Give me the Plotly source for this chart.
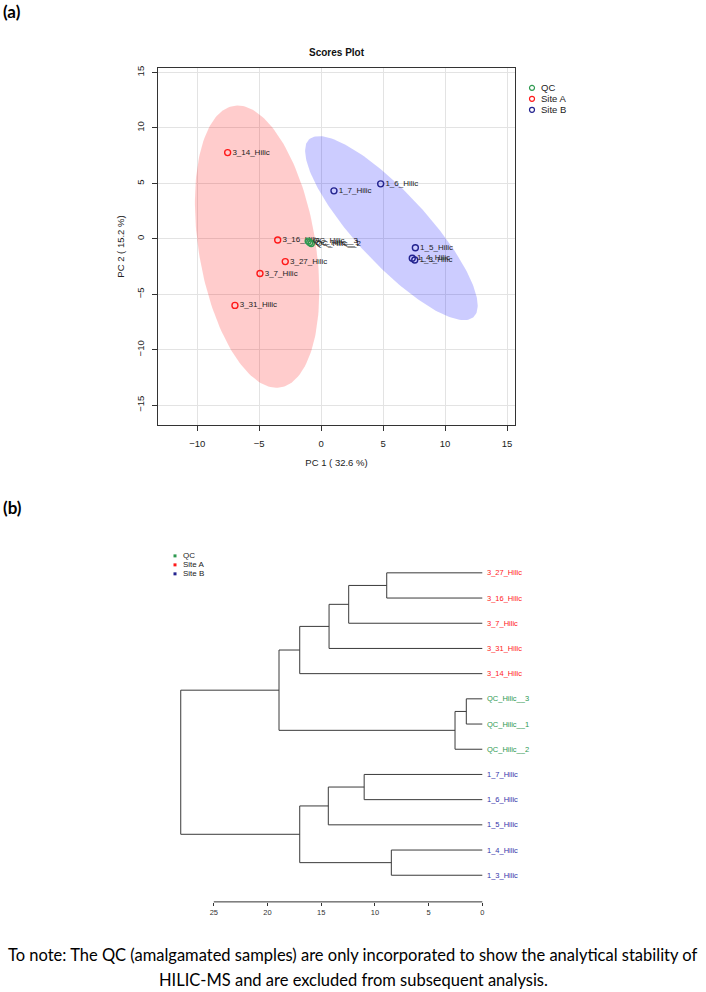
import numpy as np
import plotly.graph_objects as go

# ---------------- data: PCA scores ----------------
site_a_names = ["3_14_Hilic", "3_16_Hilic", "3_27_Hilic", "3_7_Hilic", "3_31_Hilic"]
site_a_pc1 = [-7.55, -3.51, -2.90, -4.94, -6.96]
site_a_pc2 = [7.78, -0.10, -2.05, -3.13, -6.00]

site_b_names = ["1_7_Hilic", "1_6_Hilic", "1_5_Hilic", "1_4_Hilic", "1_3_Hilic"]
site_b_pc1 = [1.03, 4.80, 7.60, 7.35, 7.55]
site_b_pc2 = [4.33, 4.96, -0.80, -1.75, -1.90]

qc_names = ["QC_Hilic__3", "QC_Hilic__1", "QC_Hilic__2"]
qc_pc1 = [-1.05, -0.92, -0.80]
qc_pc2 = [-0.20, -0.33, -0.42]

x_ticks = [-10, -5, 0, 5, 10, 15]
y_ticks = [-15, -10, -5, 0, 5, 10, 15]
legend_groups = ["QC", "Site A", "Site B"]

# ---------------- data: dendrogram ----------------
leaf_order = ["3_27_Hilic", "3_16_Hilic", "3_7_Hilic", "3_31_Hilic", "3_14_Hilic",
              "QC_Hilic__3", "QC_Hilic__1", "QC_Hilic__2",
              "1_7_Hilic", "1_6_Hilic", "1_5_Hilic", "1_4_Hilic", "1_3_Hilic"]
leaf_group = ["Site A"] * 5 + ["QC"] * 3 + ["Site B"] * 5
# merges: (new node, child 1, child 2, height)
merges = [
    ("A1", "3_27_Hilic", "3_16_Hilic", 8.90),
    ("A2", "A1", "3_7_Hilic", 12.44),
    ("A3", "A2", "3_31_Hilic", 14.27),
    ("A4", "A3", "3_14_Hilic", 17.00),
    ("Q1", "QC_Hilic__3", "QC_Hilic__1", 1.49),
    ("Q2", "Q1", "QC_Hilic__2", 2.54),
    ("AQ", "A4", "Q2", 18.93),
    ("B1", "1_7_Hilic", "1_6_Hilic", 11.00),
    ("B2", "B1", "1_5_Hilic", 14.34),
    ("B3", "1_4_Hilic", "1_3_Hilic", 8.47),
    ("B4", "B2", "B3", 17.00),
    ("ROOT", "AQ", "B4", 28.08),
]
dendro_ticks = [0, 5, 10, 15, 20, 25]

# ---------------- styles ----------------
W, H = 706, 992
col_qc = "#2E9950"
col_a = "#FF1A1A"
col_b = "#23238F"
col_b_text = "#3535AA"
fill = {"QC": "rgba(46,153,80,0.25)", "Site A": "rgba(255,0,0,0.2)", "Site B": "rgba(0,0,255,0.2)"}
RFONT = "Liberation Sans, Arial, sans-serif"


def px_x(p):
    return p / W


def px_y(p):
    return 1 - p / H


def conf_ellipse(x, y, n=200):
    x = np.asarray(x, float)
    y = np.asarray(y, float)
    cov = np.cov(np.vstack([x, y]))
    L = np.linalg.cholesky(cov)
    t = np.sqrt(-2 * np.log(1 - 0.95))
    th = np.linspace(0, 2 * np.pi, n)
    circ = np.vstack([np.cos(th), np.sin(th)])
    pts = np.array([[x.mean()], [y.mean()]]) + t * (L @ circ)
    return pts[0], pts[1]


fig = go.Figure()

# ellipses
for grp, xs, ys in [("Site A", site_a_pc1, site_a_pc2), ("Site B", site_b_pc1, site_b_pc2),
                    ("QC", qc_pc1, qc_pc2)]:
    ex, ey = conf_ellipse(xs, ys)
    fig.add_trace(go.Scatter(x=ex, y=ey, mode="lines", fill="toself", fillcolor=fill[grp],
                             line=dict(width=0), hoverinfo="skip", showlegend=False,
                             xaxis="x", yaxis="y"))

# points + labels
for names, xs, ys, col in [(site_a_names, site_a_pc1, site_a_pc2, col_a),
                           (site_b_names, site_b_pc1, site_b_pc2, col_b),
                           (qc_names, qc_pc1, qc_pc2, col_qc)]:
    fig.add_trace(go.Scatter(
        x=xs, y=ys, mode="markers+text", text=names, textposition="middle right",
        textfont=dict(family=RFONT, size=8, color="#222222"),
        marker=dict(symbol="circle-open", size=6, color=col, line=dict(width=1.4, color=col)),
        showlegend=False, xaxis="x", yaxis="y"))

# dendrogram geometry
ypos = {name: len(leaf_order) - 1 - i for i, name in enumerate(leaf_order)}
hpos = {name: 0.0 for name in leaf_order}
lx, ly = [], []
for node, c1, c2, h in merges:
    y1, y2 = ypos[c1], ypos[c2]
    lx += [hpos[c1], h, h, hpos[c2], None]
    ly += [y1, y1, y2, y2, None]
    ypos[node] = (y1 + y2) / 2
    hpos[node] = h
fig.add_trace(go.Scatter(x=lx, y=ly, mode="lines", line=dict(color="#3a3a3a", width=1),
                         hoverinfo="skip", showlegend=False, xaxis="x2", yaxis="y2"))

annotations = []
gcol = {"QC": col_qc, "Site A": col_a, "Site B": col_b_text}
for name, grp in zip(leaf_order, leaf_group):
    annotations.append(dict(x=0, y=ypos[name], xref="x2", yref="y2", text=name,
                            xanchor="left", yanchor="middle", xshift=3, showarrow=False,
                            font=dict(family=RFONT, size=7.5, color=gcol[grp])))

# titles / panel labels / note
annotations += [
    dict(x=px_x(337), y=px_y(51), xref="paper", yref="paper", text="<b>Scores Plot</b>",
         xanchor="center", yanchor="middle",
         showarrow=False, font=dict(family=RFONT, size=10, color="#111")),
    dict(x=px_x(1), y=px_y(10), xref="paper", yref="paper", text="<b>(a)</b>", xanchor="left",
         yanchor="middle",
         showarrow=False, font=dict(family="Lato, sans-serif", size=17, color="#000")),
    dict(x=px_x(1), y=px_y(507), xref="paper", yref="paper", text="<b>(b)</b>", xanchor="left",
         yanchor="middle",
         showarrow=False, font=dict(family="Lato, sans-serif", size=17, color="#000")),
    dict(x=px_x(353), y=px_y(955), xref="paper", yref="paper",
         text="To note: The QC (amalgamated samples) are only incorporated to show the analytical stability of",
         xanchor="center", yanchor="middle",
         showarrow=False, font=dict(family="Lato, sans-serif", size=16.5, color="#000")),
    dict(x=px_x(353), y=px_y(980), xref="paper", yref="paper",
         text="HILIC-MS and are excluded from subsequent analysis.",
         xanchor="center", yanchor="middle",
         showarrow=False, font=dict(family="Lato, sans-serif", size=16.5, color="#000")),
]

shapes = []
# PCA legend (manual)
leg_cols = {"QC": col_qc, "Site A": col_a, "Site B": col_b}
for i, g in enumerate(legend_groups):
    yy = 86 + 11 * i
    shapes.append(dict(type="circle", xref="paper", yref="paper",
                       x0=px_x(529.5), x1=px_x(534.5), y0=px_y(yy + 2.5), y1=px_y(yy - 2.5),
                       line=dict(color=leg_cols[g], width=1.2)))
    annotations.append(dict(x=px_x(539), y=px_y(yy), xref="paper", yref="paper", text=g,
                            xanchor="left", yanchor="middle", showarrow=False,
                            font=dict(family=RFONT, size=9.5, color="#222")))
# dendrogram legend (manual)
for i, g in enumerate(legend_groups):
    yy = 555 + 9 * i
    shapes.append(dict(type="rect", xref="paper", yref="paper",
                       x0=px_x(173.5), x1=px_x(176.5), y0=px_y(yy + 1.5), y1=px_y(yy - 1.5),
                       fillcolor=gcol[g] if g != "Site B" else col_b, line=dict(width=0)))
    annotations.append(dict(x=px_x(181), y=px_y(yy), xref="paper", yref="paper", text=g,
                            xanchor="left", yanchor="middle", showarrow=False,
                            font=dict(family=RFONT, size=8, color="#222")))
# dendrogram axis line (spans tick range only)
shapes.append(dict(type="line", xref="x2", yref="y2 domain", x0=max(dendro_ticks), x1=min(dendro_ticks),
                   y0=0, y1=0, line=dict(color="#333", width=1)))

fig.update_layout(
    width=W, height=H, margin=dict(l=0, r=0, t=0, b=0),
    paper_bgcolor="white", plot_bgcolor="white", showlegend=False,
    annotations=annotations, shapes=shapes,
    xaxis=dict(domain=[px_x(158), px_x(515)], range=[-13.17, 15.64], tickvals=x_ticks,
               showgrid=True, gridcolor="#E3E3E3", gridwidth=1, zeroline=False,
               showline=True, mirror=True, linecolor="#333", linewidth=1.2,
               ticks="outside", ticklen=5, tickcolor="#333", ticklabelstandoff=4,
               tickfont=dict(family=RFONT, size=9.5, color="#222"),
               title=dict(text="PC 1 ( 32.6 %)", font=dict(family=RFONT, size=9.5, color="#222"),
                          standoff=11),
               anchor="y"),
    yaxis=dict(domain=[px_y(424), px_y(66)], range=[-16.8, 15.42], tickvals=y_ticks,
               showgrid=True, gridcolor="#E3E3E3", gridwidth=1, zeroline=False,
               showline=True, mirror=True, linecolor="#333", linewidth=1.2,
               ticks="outside", ticklen=5, tickcolor="#333", tickangle=-90, ticklabelstandoff=4,
               tickfont=dict(family=RFONT, size=9.5, color="#222"),
               title=dict(text="PC 2 ( 15.2 %)", font=dict(family=RFONT, size=9.5, color="#222"),
                          standoff=8),
               anchor="x"),
    xaxis2=dict(domain=[px_x(170), px_x(484)], range=[29.08, -0.158], tickvals=dendro_ticks,
                showgrid=False, zeroline=False, showline=False, ticks="outside", ticklen=3,
                tickcolor="#333", tickfont=dict(family=RFONT, size=7.5, color="#333"),
                anchor="y2"),
    yaxis2=dict(domain=[px_y(901.7), px_y(560)], range=[-1.057, 12.475], visible=False,
                anchor="x2"),
)

fig.write_html("out.html", config={"displayModeBar": False},
               post_script="document.body.style.margin='0';document.body.style.overflow='hidden';")
